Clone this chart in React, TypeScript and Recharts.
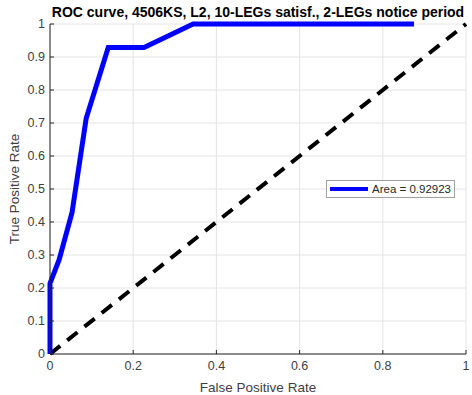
import React from 'react';
import { LineChart, Line, XAxis, YAxis, CartesianGrid, Legend } from 'recharts';

// ROC points
const fpr = [0, 0, 0.022, 0.053, 0.087, 0.14, 0.226, 0.344, 0.875];
const tpr = [0, 0.214, 0.286, 0.429, 0.714, 0.929, 0.929, 1, 1];
const chanceX = [0, 1];
const chanceY = [0, 1];
const xTicks = [0, 0.2, 0.4, 0.6, 0.8, 1];
const yTicks = [0, 0.1, 0.2, 0.3, 0.4, 0.5, 0.6, 0.7, 0.8, 0.9, 1];
const areaLabel = 'Area = 0.92923';
const title = 'ROC curve, 4506KS, L2, 10-LEGs satisf., 2-LEGs notice period';

const rocData = fpr.map((x, i) => ({ x, y: tpr[i] }));
const chanceData = chanceX.map((x, i) => ({ x, y: chanceY[i] }));

const FONT = '"Liberation Sans", Arial, Helvetica, sans-serif';
const AXIS = '#262626';
const TEXT = '#404040';

const LegendBox = () => (
  <div
    style={{
      display: 'flex',
      alignItems: 'center',
      background: '#fff',
      border: '1px solid #a0a0a0',
      padding: '2px 3px',
      fontFamily: FONT,
      fontSize: 11.5,
      color: '#262626',
      whiteSpace: 'nowrap',
    }}
  >
    <span style={{ display: 'inline-block', width: 38, height: 4, background: '#0000ff', marginRight: 4 }} />
    {areaLabel}
  </div>
);

const App: React.FC = () => {
  return (
    <div style={{ position: 'absolute', left: 0, top: 0, width: 472, height: 395, background: '#fff', fontFamily: FONT }}>
      <div
        style={{
          position: 'absolute',
          left: 0,
          width: 472,
          top: 4,
          textAlign: 'center',
          paddingLeft: 44,
          boxSizing: 'border-box',
          fontWeight: 'bold',
          fontSize: 14,
          color: '#000',
          whiteSpace: 'nowrap',
        }}
      >
        {title}
      </div>
      <LineChart width={472} height={395} margin={{ top: 24, right: 6, left: 10, bottom: 11 }}>
        <CartesianGrid stroke="#e4e4e4" />
        <XAxis
          dataKey="x"
          type="number"
          domain={[0, 1]}
          ticks={xTicks}
          height={30}
          stroke={AXIS}
          tickSize={-4}
          tickMargin={11}
          tick={{ fill: TEXT, fontSize: 12.5 }}
          label={{ value: 'False Positive Rate', position: 'insideBottom', offset: -8, fill: TEXT, fontSize: 13.5 }}
        />
        <XAxis
          xAxisId="top"
          orientation="top"
          type="number"
          domain={[0, 1]}
          ticks={xTicks}
          height={0}
          stroke={AXIS}
          tickSize={-4}
          tick={false}
        />
        <YAxis
          type="number"
          domain={[0, 1]}
          ticks={yTicks}
          width={40}
          stroke={AXIS}
          tickSize={-4}
          tickMargin={9}
          tick={{ fill: TEXT, fontSize: 12.5 }}
          label={{ value: 'True Positive Rate', angle: -90, position: 'insideLeft', offset: 4, fill: TEXT, fontSize: 13.5, style: { textAnchor: 'middle' } }}
        />
        <YAxis
          yAxisId="right"
          orientation="right"
          type="number"
          domain={[0, 1]}
          ticks={yTicks}
          width={0}
          stroke={AXIS}
          tickSize={-4}
          tick={false}
        />
        <Legend
          layout="horizontal"
          verticalAlign="middle"
          align="center"
          content={<LegendBox />}
          wrapperStyle={{ position: 'absolute', left: 326, top: 180, width: 'auto' }}
        />
        <Line
          data={chanceData}
          dataKey="y"
          name="chance"
          stroke="#000"
          strokeWidth={4}
          strokeDasharray="13 9"
          dot={false}
          legendType="none"
          isAnimationActive={false}
        />
        <Line
          data={rocData}
          dataKey="y"
          name={areaLabel}
          stroke="#0000ff"
          strokeWidth={5}
          strokeLinejoin="miter"
          dot={false}
          isAnimationActive={false}
        />
      </LineChart>
    </div>
  );
};

export default App;
